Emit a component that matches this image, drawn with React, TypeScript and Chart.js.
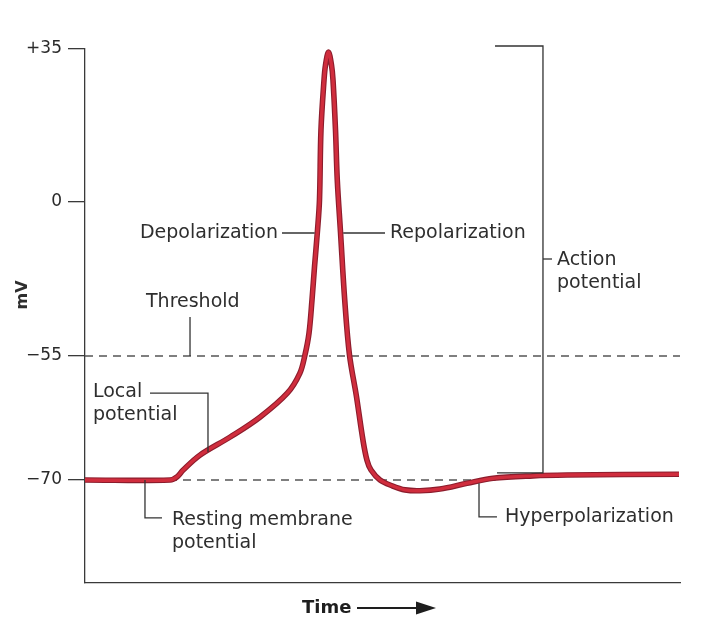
import React, { useEffect, useRef } from 'react';
import { Chart, registerables, LinearScale } from 'chart.js';

// ---------------- data ----------------
const TIME = [0, 1.43, 1.55, 1.65, 1.93, 2.44, 2.94, 3.40, 3.61, 3.697, 3.765, 3.815, 3.857, 3.908, 3.941, 3.966, 4.017, 4.042, 4.092, 4.143, 4.168, 4.210, 4.240, 4.294, 4.365, 4.445, 4.560, 4.672, 4.739, 4.807, 4.958, 5.160, 5.378, 5.630, 5.966, 6.420, 6.857, 7.529, 8.101, 9.983];
const MEMBRANE_MV = [-70, -70, -69.6, -68.8, -67.0, -64.8, -62.4, -59.5, -57.1, -54.6, -46.8, -35.0, -23.2, -10.0, 0.5, 16.5, 27.9, 31.3, 34.3, 31.3, 27.9, 16.5, 5.0, -10.7, -35.0, -54.6, -59.8, -65.2, -67.6, -68.8, -70.0, -70.7, -71.2, -71.3, -71.1, -70.4, -69.8, -69.5, -69.4, -69.3];

const Y_TICK_VALUES = [-70, -55, 0, 35];
const Y_TICK_LABELS = ['\u221270', '\u221255', '0', '+35'];

const TIME_MIN = 0;
const TIME_MAX = 10;
const MV_MIN = -82.5;
const MV_MAX = 35;

const THRESHOLD_MV = -55;
const RESTING_MV = -70;
const RESTING_LINE_END = 6.9;

// the printed mV axis is not linear: value breakpoints and their share of the axis height
const Y_BREAK_VALUES = [-82.5, -70, -55, 0, 35];
const Y_BREAK_FRACTIONS = [0, 0.1929, 0.4251, 0.7135, 1];

// annotation texts (anchored in data units: time, mV)
const LABEL_TEXTS = [
  ['Depolarization'],
  ['Repolarization'],
  ['Threshold'],
  ['Local', 'potential'],
  ['Resting membrane', 'potential'],
  ['Hyperpolarization'],
  ['Action', 'potential'],
];
const LABEL_TIMES = [0.924, 5.126, 1.025, 0.134, 1.462, 7.059, 7.933];
const LABEL_MV = [-11.07, -11.07, -35.7, -59.35, -74.84, -74.48, -20.7];

// leader lines / bracket (polylines in data units)
const LEADERS: number[][][] = [
  [[3.311, -11.07], [3.86, -11.07]],
  [[4.34, -11.07], [5.042, -11.07]],
  [[1.765, -41.1], [1.765, -55]],
  [[1.092, -59.48], [2.067, -59.48], [2.067, -66.6]],
  [[1.008, -70], [1.008, -74.6], [1.294, -74.6]],
  [[6.622, -70.4], [6.622, -74.48], [6.924, -74.48]],
  [[7.697, -20.36], [7.849, -20.36]],
  [[6.891, 35.69], [7.697, 35.69], [7.697, -69.15], [6.924, -69.15]],
];

// ---------------- piecewise scale ----------------
function valueToFraction(v: number): number {
  const vals = Y_BREAK_VALUES, fr = Y_BREAK_FRACTIONS;
  let i = 0;
  if (v <= vals[0]) i = 0;
  else if (v >= vals[vals.length - 1]) i = vals.length - 2;
  else { while (v > vals[i + 1]) i++; }
  return fr[i] + ((v - vals[i]) / (vals[i + 1] - vals[i])) * (fr[i + 1] - fr[i]);
}
function fractionToValue(f: number): number {
  const vals = Y_BREAK_VALUES, fr = Y_BREAK_FRACTIONS;
  let i = 0;
  if (f <= fr[0]) i = 0;
  else if (f >= fr[fr.length - 1]) i = fr.length - 2;
  else { while (f > fr[i + 1]) i++; }
  return vals[i] + ((f - fr[i]) / (fr[i + 1] - fr[i])) * (vals[i + 1] - vals[i]);
}

class PiecewiseScale extends LinearScale {
  static id = 'piecewise';
  static defaults = LinearScale.defaults;
  getPixelForValue(value: any) {
    if (value === null || value === undefined || isNaN(value)) return NaN;
    return (this as any).getPixelForDecimal(valueToFraction(value));
  }
  getValueForPixel(pixel: number) {
    return fractionToValue((this as any).getDecimalForPixel(pixel));
  }
}

Chart.register(...registerables, PiecewiseScale as any);

const INK = '#2e2e2e';
const FONT = '"DejaVu Sans", sans-serif';

const annotationPlugin = {
  id: 'apAnnotations',
  afterDraw(chart: any) {
    const { ctx, chartArea } = chart;
    const xs = chart.scales.x;
    const ys = chart.scales.y;
    const px = (t: number) => xs.getPixelForValue(t);
    const py = (v: number) => ys.getPixelForValue(v);
    ctx.save();
    // leaders
    ctx.strokeStyle = '#333';
    ctx.lineWidth = 1.3;
    LEADERS.forEach((poly) => {
      ctx.beginPath();
      poly.forEach(([t, v], i) => {
        const X = px(t), Y = py(v);
        if (i === 0) ctx.moveTo(X, Y); else ctx.lineTo(X, Y);
      });
      ctx.stroke();
    });
    // texts
    ctx.fillStyle = INK;
    ctx.font = `19px ${FONT}`;
    ctx.textAlign = 'left';
    ctx.textBaseline = 'middle';
    LABEL_TEXTS.forEach((lines, k) => {
      const X = px(LABEL_TIMES[k]);
      const Y = py(LABEL_MV[k]);
      lines.forEach((s, j) => ctx.fillText(s, X, Y + j * 23));
    });
    // y-axis title
    ctx.save();
    ctx.translate(chartArea.left - 62, 295);
    ctx.rotate(-Math.PI / 2);
    ctx.font = `bold 16px ${FONT}`;
    ctx.textAlign = 'center';
    ctx.fillText('mV', 0, 0);
    ctx.restore();
    // x-axis title with arrow
    const ty = chartArea.bottom + 25;
    ctx.font = `bold 18px ${FONT}`;
    ctx.textAlign = 'left';
    ctx.fillStyle = '#1e1e1e';
    ctx.fillText('Time', 302, ty);
    ctx.strokeStyle = '#1e1e1e';
    ctx.lineWidth = 2;
    ctx.beginPath();
    ctx.moveTo(357, ty);
    ctx.lineTo(420, ty);
    ctx.stroke();
    ctx.beginPath();
    ctx.moveTo(416, ty - 6.5);
    ctx.lineTo(436, ty);
    ctx.lineTo(416, ty + 6.5);
    ctx.closePath();
    ctx.fill();
    ctx.restore();
  },
};

export default function App() {
  const ref = useRef<HTMLCanvasElement | null>(null);
  useEffect(() => {
    document.body.style.margin = '0';
    const canvas = ref.current;
    if (!canvas) return;
    const curve = TIME.map((t, i) => ({ x: t, y: MEMBRANE_MV[i] }));
    const chart = new Chart(canvas, {
      type: 'line',
      data: {
        datasets: [
          {
            data: curve,
            borderColor: '#d02d3d',
            borderWidth: 3.4,
            pointRadius: 0,
            tension: 0.35,
          },
          {
            data: curve,
            borderColor: '#8c1c2c',
            borderWidth: 5.6,
            pointRadius: 0,
            tension: 0.35,
          },
          {
            data: [{ x: TIME_MIN, y: THRESHOLD_MV }, { x: TIME_MAX, y: THRESHOLD_MV }],
            borderColor: '#555',
            borderWidth: 1.3,
            borderDash: [8, 6],
            pointRadius: 0,
          },
          {
            data: [{ x: TIME_MIN, y: RESTING_MV }, { x: RESTING_LINE_END, y: RESTING_MV }],
            borderColor: '#555',
            borderWidth: 1.3,
            borderDash: [8, 6],
            pointRadius: 0,
          },
        ],
      } as any,
      options: {
        animation: false,
        responsive: false,
        layout: { padding: { top: 49, right: 31, bottom: 0, left: 0 } },
        plugins: { legend: { display: false }, tooltip: { enabled: false } },
        scales: {
          x: {
            type: 'linear',
            min: TIME_MIN,
            max: TIME_MAX,
            ticks: { display: false },
            grid: { display: false },
            border: { display: true, color: '#3a3a3a', width: 1.3 },
            afterFit: (s: any) => { s.height = 48; },
          },
          y: {
            type: 'piecewise' as any,
            min: MV_MIN,
            max: MV_MAX,
            afterBuildTicks: (s: any) => { s.ticks = Y_TICK_VALUES.map((v) => ({ value: v })); },
            ticks: {
              autoSkip: false,
              padding: 6,
              color: '#2a2a2a',
              font: { family: FONT, size: 17 },
              callback: (value: any) => {
                const i = Y_TICK_VALUES.indexOf(Number(value));
                return i >= 0 ? Y_TICK_LABELS[i] : '';
              },
            },
            grid: { drawOnChartArea: false, drawTicks: true, tickLength: 17, color: '#3a3a3a', lineWidth: 1.3 },
            border: { display: true, color: '#3a3a3a', width: 1.3 },
            afterFit: (s: any) => { s.width = 85; },
          },
        },
      } as any,
      plugins: [annotationPlugin],
    });
    return () => chart.destroy();
  }, []);
  return (
    <div style={{ width: 711, height: 631, background: '#fff' }}>
      <canvas ref={ref} width={711} height={631} />
    </div>
  );
}
